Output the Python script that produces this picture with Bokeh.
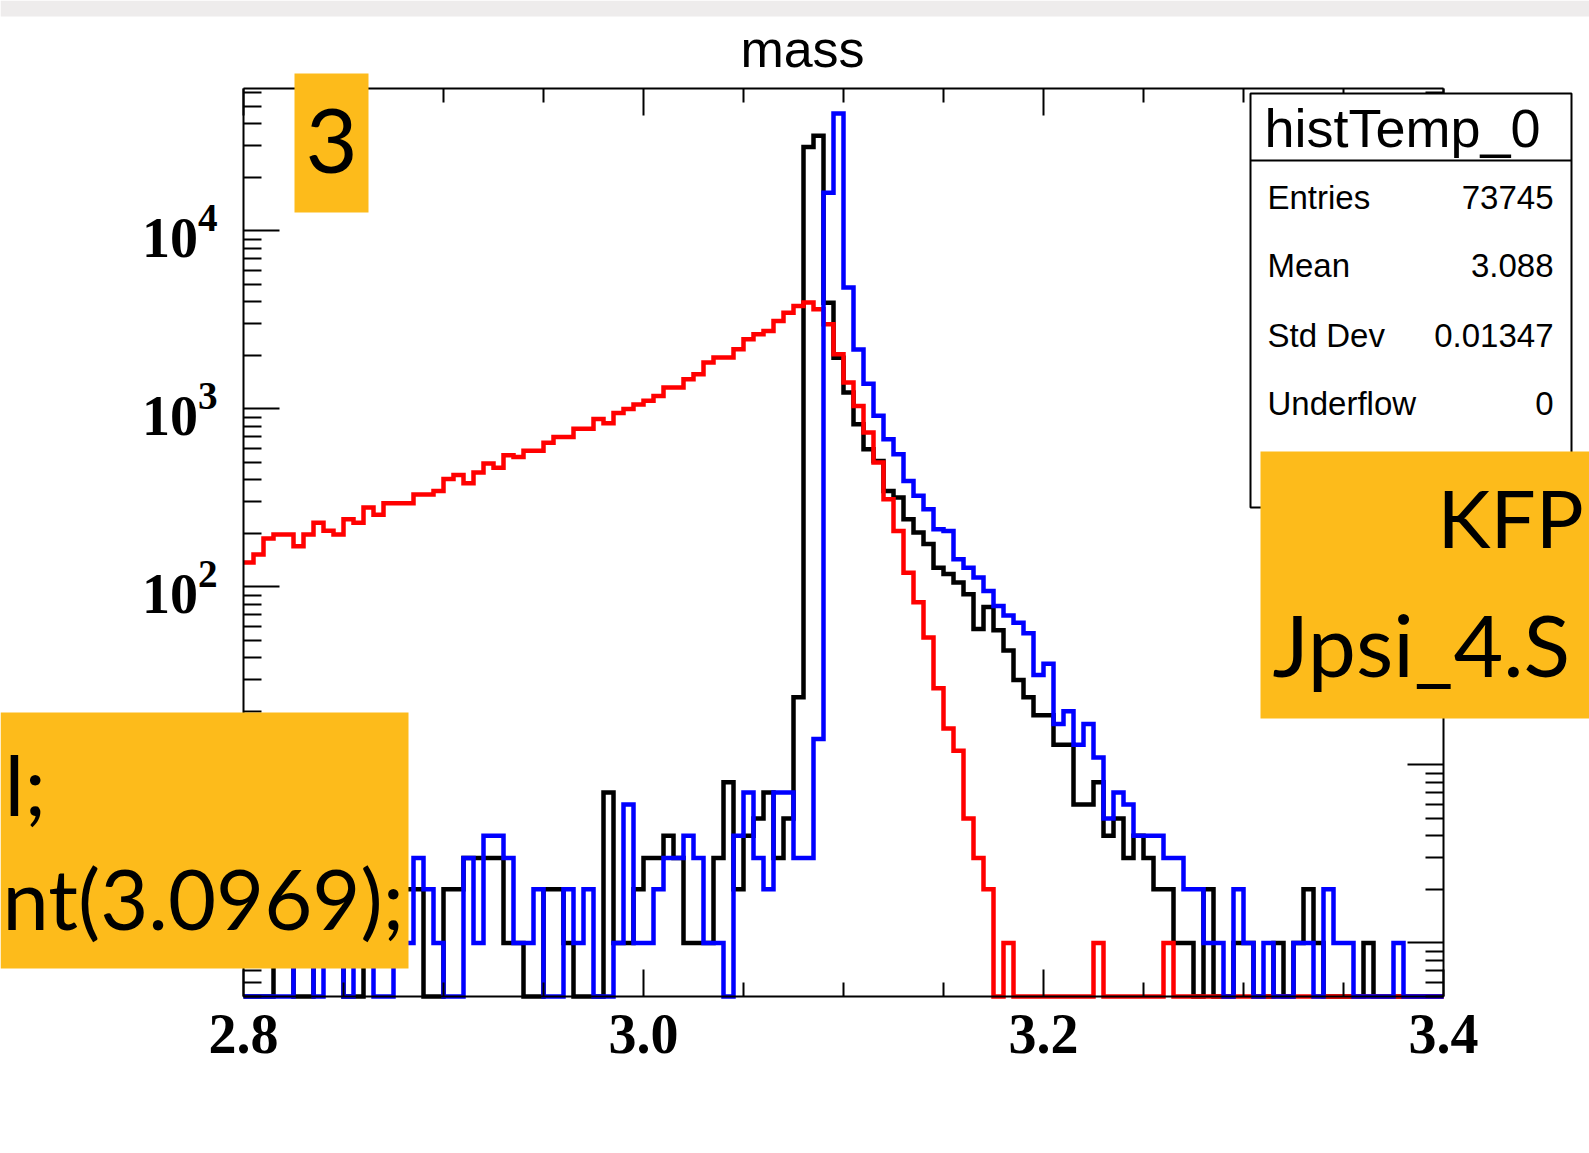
import numpy as np
from bokeh.plotting import figure
from bokeh.models import (Range1d, FixedTicker, LinearAxis, LogAxis, BoxAnnotation,
                          Label, CustomJSTickFormatter)
from bokeh.embed import file_html
from bokeh.resources import INLINE

# ---------------- data ----------------
hist_x_min = 2.8
hist_x_max = 3.4
n_bins = 120

red_counts = [137, 152, 187, 197, 197, 169, 197, 229, 207, 197,
              240, 229, 279, 254, 295, 295, 295, 331, 331, 346,
              404, 425, 382, 440, 494, 467, 549, 537, 583, 583,
              646, 695, 695, 773, 773, 879, 832, 950, 998, 1058,
              1110, 1183, 1318, 1318, 1469, 1567, 1822, 1943, 1943, 2163,
              2462, 2627, 2742, 3121, 3475, 3790, 3955, 3630, 2990, 2030,
              1406, 1040, 736, 500, 311, 206, 120, 82, 52, 27,
              16, 12, 5, 3, 2, 0, 1, 0, 0, 0,
              0, 0, 0, 0, 0, 1, 0, 0, 0, 0,
              0, 0, 1, 0, 0, 0, 0, 0, 0, 0,
              0, 0, 0, 0, 0, 0, 0, 0, 0, 0,
              0, 0, 0, 0, 0, 0, 0, 0, 0, 0]

black_counts = [0, 0, 0, 1, 2, 0, 0, 1, 2, 1,
                0, 0, 1, 2, 1, 1, 2, 2, 0, 0,
                2, 2, 3, 3, 3, 3, 1, 1, 0, 0,
                2, 2, 1, 0, 0, 0, 7, 1, 1, 2,
                3, 3, 4, 3, 1, 1, 1, 3, 8, 2,
                4, 5, 7, 3, 5, 24, 29650, 34200, 3950, 1940,
                1235, 820, 593, 510, 346, 318, 240, 202, 174, 128,
                118, 106, 91, 58, 77, 57, 44, 30, 24, 19,
                19, 13, 13, 6, 6, 8, 4, 5, 3, 4,
                3, 2, 2, 1, 1, 0, 2, 0, 0, 1,
                1, 0, 0, 1, 0, 1, 2, 1, 0, 0,
                0, 0, 1, 0, 0, 0, 0, 0, 0, 0]

blue_counts = [0, 0, 0, 0, 0, 1, 2, 0, 1, 2,
               0, 2, 1, 0, 0, 1, 1, 3, 2, 1,
               0, 0, 3, 1, 4, 4, 3, 1, 1, 2,
               0, 0, 2, 1, 2, 0, 0, 1, 6, 1,
               1, 2, 3, 3, 4, 3, 1, 1, 0, 4,
               7, 3, 2, 7, 7, 3, 3, 14, 16400, 45600,
               4810, 2160, 1387, 914, 676, 556, 394, 325, 273, 211,
               206, 143, 128, 113, 95, 78, 69, 63, 55, 32,
               37, 17, 20, 13, 17, 11, 5, 7, 6, 4,
               4, 4, 3, 3, 2, 2, 1, 1, 0, 2,
               1, 0, 1, 0, 0, 1, 1, 0, 2, 1,
               1, 0, 0, 0, 0, 1, 0, 0, 0, 0]

x_major_ticks = [2.8, 3.0, 3.2, 3.4]
x_minor_ticks = [2.85, 2.9, 2.95, 3.05, 3.1, 3.15, 3.25, 3.3, 3.35]
y_labeled_ticks = [100, 1000, 10000]
y_all_decades = [1, 10, 100, 1000, 10000]

plot_title = "mass"
stats_title = "histTemp_0"
stats_names = ["Entries", "Mean", "Std Dev", "Underflow"]
stats_values = ["73745", "3.088", "0.01347", "0"]

assert len(red_counts) == n_bins and len(black_counts) == n_bins and len(blue_counts) == n_bins

# ---------------- layout (page pixels) ----------------
W, H = 1589, 1153
FL, FR, FT, FB = 243, 1443, 88, 996          # ROOT frame inside the page
YMIN = 0.5
YMAX = 0.5 * 10 ** ((FB - FT) / 178.0)
ORANGE = "#FDBB1B"


def X(px):
    return hist_x_min + (px - FL) / (FR - FL) * (hist_x_max - hist_x_min)


def Y(py):
    lo, hi = np.log10(YMIN), np.log10(YMAX)
    return 10 ** (lo + (FB - py) / (FB - FT) * (hi - lo))


# the plotting frame covers the whole page; axes are pinned to the ROOT frame
p = figure(width=W, height=H, title=None,
           x_range=Range1d(X(0), X(W)), y_range=Range1d(Y(H), Y(0)),
           y_axis_type="log", output_backend="svg", toolbar_location=None,
           min_border=0)
p.background_fill_color = "white"
p.border_fill_color = "white"
p.outline_line_color = None
p.xgrid.visible = False
p.ygrid.visible = False

minor_y = []
for d in [0.1, 1, 10, 100, 1000, 10000]:
    for m in range(1, 10):
        v = d * m
        if YMIN <= v <= YMAX and v not in y_labeled_ticks:
            minor_y.append(v)
minor_y_right = [v for v in minor_y if v not in y_all_decades]


def style_axis(ax, tin, tmin):
    ax.axis_line_width = 2
    ax.axis_line_color = "black"
    ax.major_tick_line_width = 2
    ax.minor_tick_line_width = 2
    ax.major_tick_in = tin
    ax.major_tick_out = 0
    ax.minor_tick_in = tmin
    ax.minor_tick_out = 0


# bottom x axis
xa = p.xaxis[0]
xa.ticker = FixedTicker(ticks=x_major_ticks, minor_ticks=x_minor_ticks)
xa.formatter = CustomJSTickFormatter(code="return tick.toFixed(1);")
xa.fixed_location = YMIN
xa.bounds = (hist_x_min, hist_x_max)
style_axis(xa, 27, 14)
xa.major_label_text_font = "Liberation Serif"
xa.major_label_text_font_style = "bold"
xa.major_label_text_font_size = "56px"
xa.major_label_text_color = "black"
xa.major_label_standoff = 18

# top x axis (ticks only)
xt = LinearAxis(ticker=FixedTicker(ticks=x_major_ticks, minor_ticks=x_minor_ticks),
                formatter=CustomJSTickFormatter(code="return '';"),
                fixed_location=YMAX, bounds=(hist_x_min, hist_x_max),
                major_label_text_font_size="1px", major_label_standoff=0)
style_axis(xt, 27, 14)
p.add_layout(xt, "above")

# left y axis
ya = p.yaxis[0]
ya.ticker = FixedTicker(ticks=y_labeled_ticks, minor_ticks=minor_y)
ya.fixed_location = hist_x_min
ya.bounds = (YMIN, YMAX)
style_axis(ya, 36, 18)
ya.major_label_text_font = "Liberation Serif"
ya.major_label_text_font_style = "bold"
ya.major_label_text_font_size = "56px"
ya.major_label_text_color = "black"
ya.major_label_standoff = 26

# right y axis (ticks only)
yr = LogAxis(ticker=FixedTicker(ticks=y_all_decades, minor_ticks=minor_y_right),
             formatter=CustomJSTickFormatter(code="return '';"),
             fixed_location=hist_x_max, bounds=(YMIN, YMAX),
             major_label_text_font_size="1px", major_label_standoff=0)
style_axis(yr, 36, 18)
p.add_layout(yr, "right")

# ---------------- histograms ----------------
edges = [hist_x_min + i * (hist_x_max - hist_x_min) / n_bins for i in range(n_bins + 1)]


def step_levels(counts):
    lv = [c if c > 0 else YMIN for c in counts]
    return lv + [lv[-1]]


for counts, col in [(black_counts, "black"), (red_counts, "red"), (blue_counts, "blue")]:
    p.step(edges, step_levels(counts), mode="after", line_color=col, line_width=4.5,
           line_join="miter")


# ---------------- decorations ----------------
def box(x0, x1, y0, y1, fill, line=None, lw=0):
    b = BoxAnnotation(left=X(x0), right=X(x1), top=Y(y0), bottom=Y(y1),
                      fill_color=fill, fill_alpha=1.0,
                      line_color=line, line_width=lw, line_alpha=1.0 if line else 0)
    p.add_layout(b)
    return b


def label(px, py, text, font, size, align="left", baseline="alphabetic", style="normal",
          color="black"):
    lab = Label(x=X(px), y=Y(py), text=text, text_font=font, text_font_size=size,
                text_align=align, text_baseline=baseline, text_font_style=style,
                text_color=color)
    p.add_layout(lab)
    return lab


# faint screenshot strip at the top
box(0, W, 0, 16, "#EEECEC")

# title
label(802, 48, plot_title, "Liberation Sans", "52px", align="center")

# stats box
box(1250, 1571, 93, 507, "white", "black", 2)
box(1250, 1571, 159, 161, "black")
label(1264, 127, stats_title, "Liberation Sans", "54px")
row_y = [197, 265, 335, 403]
for name, val, yy in zip(stats_names, stats_values, row_y):
    label(1267, yy, name, "Liberation Sans", "33px")
    label(1553, yy, val, "Liberation Sans", "33px", align="right")

# orange overlay boxes
box(294, 368, 73, 212, ORANGE)
label(331, 140, "3", "Lato", "90px", align="center", baseline="middle")

box(1260, W, 451, 718, ORANGE)
label(1437, 516, "KFP", "Lato", "80px")
label(1272, 643, "Jpsi_4.S", "Lato", "86px")

box(0, 408, 712, 968, ORANGE)
label(4, 783, "l;", "Lato", "84px")
label(2, 897, "nt(3.0969);", "Lato", "83px")

open("out.html", "w").write(file_html(p, INLINE))
